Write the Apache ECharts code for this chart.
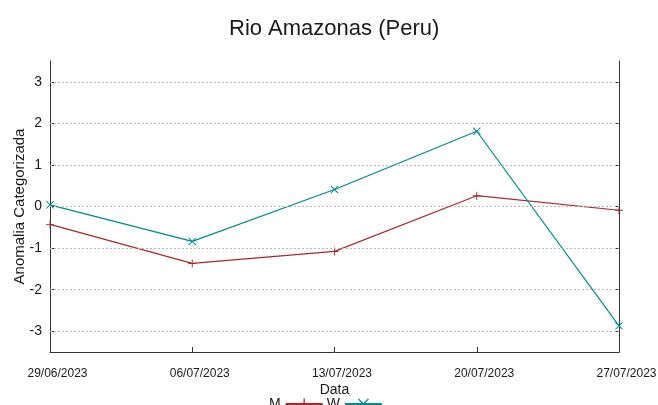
<!DOCTYPE html>
<html>
<head>
<meta charset="utf-8">
<script src="https://cdn.jsdelivr.net/npm/echarts@6/dist/echarts.min.js"></script>
<style>
  html, body { margin: 0; padding: 0; background: #fff; }
  #chart { width: 658px; height: 405px; }
</style>
</head>
<body>
<div id="chart"></div>
<script>
// Weekly dates on the horizontal axis
const dates = ['29/06/2023', '06/07/2023', '13/07/2023', '20/07/2023', '27/07/2023'];
// Categorised anomaly per series
const seriesM = [-0.43, -1.37, -1.08, 0.26, -0.09];
const seriesW = [0.04, -0.84, 0.41, 1.81, -2.87];
// Labelled positions on the vertical axis
const yTicks = [-3, -2, -1, 0, 1, 2, 3];

const colorM = '#a52a2a';
const colorW = '#008b8b';

// Marker shapes: a plus and a cross, built from thin filled bars
const plusPath = 'path://M4.4,0h1.2v10h-1.2z M0,4.4h10v1.2h-10z';
const crossPath = 'path://M0,0.85L0.85,0L5,4.15L9.15,0L10,0.85L5.85,5L10,9.15L9.15,10L5,5.85L0.85,10L0,9.15L4.15,5z';

const font = 'Liberation Sans, Arial, sans-serif';

const chart = echarts.init(document.getElementById('chart'), null, { renderer: 'canvas' });

chart.setOption({
  animation: false,
  backgroundColor: '#ffffff',
  title: {
    text: 'Rio Amazonas (Peru)',
    left: 224,
    top: 13,
    textStyle: { fontFamily: font, fontSize: 22, fontWeight: 'normal', color: '#1a1a1a' }
  },
  legend: {
    left: 264,
    top: 392,
    align: 'right',
    itemWidth: 37,
    itemHeight: 14,
    itemGap: 3,
    textStyle: { fontFamily: font, fontSize: 14, color: '#1a1a1a' },
    data: ['M', 'W']
  },
  grid: { left: 50, right: 39, top: 61, bottom: 53, containLabel: false, outerBoundsMode: 'none' },
  xAxis: {
    type: 'category',
    data: dates,
    boundaryGap: false,
    name: 'Data',
    nameLocation: 'middle',
    nameGap: 31,
    nameMoveOverlap: false,
    nameTextStyle: { fontFamily: font, fontSize: 14, color: '#1a1a1a' },
    axisLine: { show: true, onZero: false, lineStyle: { color: '#333', width: 1 } },
    axisTick: { show: true, inside: true, length: 5, lineStyle: { color: '#333' } },
    axisLabel: {
      fontFamily: font, fontSize: 12, color: '#1a1a1a', margin: 16,
      padding: [0, 0, 0, 15], interval: 0
    },
    splitLine: { show: false }
  },
  yAxis: [
    {
      type: 'value',
      min: -3.5,
      max: 3.5,
      name: 'Anomalia Categorizada',
      nameLocation: 'middle',
      nameGap: 23,
      nameMoveOverlap: false,
      nameTextStyle: { fontFamily: font, fontSize: 15, color: '#1a1a1a' },
      axisLine: { show: true, lineStyle: { color: '#333', width: 1 } },
      axisTick: { show: true, inside: true, length: 5, customValues: yTicks, lineStyle: { color: '#333' } },
      axisLabel: { fontFamily: font, fontSize: 14, color: '#1a1a1a', margin: 8, customValues: yTicks },
      splitLine: { show: false }
    },
    {
      type: 'value',
      min: -3.5,
      max: 3.5,
      position: 'right',
      axisLine: { show: true, lineStyle: { color: '#333', width: 1 } },
      axisTick: { show: true, inside: true, length: 5, customValues: yTicks, lineStyle: { color: '#333' } },
      axisLabel: { show: false },
      splitLine: { show: false }
    }
  ],
  series: [
    {
      name: 'M',
      type: 'line',
      data: seriesM,
      symbol: plusPath,
      symbolSize: 8,
      showSymbol: true,
      color: colorM,
      lineStyle: { color: colorM, width: 1.2 },
      itemStyle: { color: colorM },
      z: 3,
      markLine: {
        silent: true,
        symbol: 'none',
        label: { show: false },
        lineStyle: { color: '#b8b8b8', type: [2, 2], width: 1 },
        data: yTicks.map(v => ({ yAxis: v }))
      }
    },
    {
      name: 'W',
      type: 'line',
      data: seriesW,
      symbol: crossPath,
      symbolSize: 8,
      showSymbol: true,
      color: colorW,
      lineStyle: { color: colorW, width: 1.2 },
      itemStyle: { color: colorW },
      z: 4
    }
  ]
});
</script>
</body>
</html>
